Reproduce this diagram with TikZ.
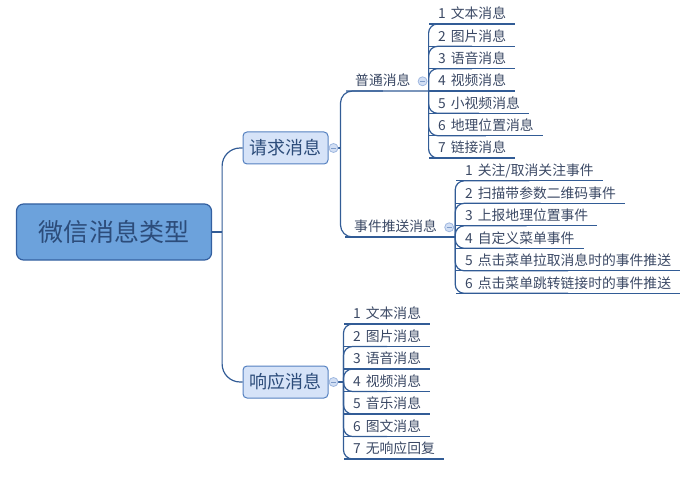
\documentclass[tikz,border=0pt]{standalone}
\usepackage{fontspec}
\newfontfamily\cjk{Noto Sans CJK SC}
\usetikzlibrary{positioning}
\definecolor{linecol}{RGB}{50,92,150}
\definecolor{txtcol}{RGB}{58,72,100}
\definecolor{rootfill}{RGB}{108,162,220}
\definecolor{rootline}{RGB}{52,96,160}
\definecolor{roottext}{RGB}{44,76,122}
\definecolor{boxfill}{RGB}{214,227,248}
\definecolor{boxline}{RGB}{84,128,192}
\definecolor{tgfill}{RGB}{210,223,244}
\definecolor{tgline}{RGB}{160,184,224}
\newcommand\leaffont{\cjk\fontsize{13.8bp}{16bp}\selectfont\spaceskip 5bp plus 1bp minus 1bp\relax}

\begin{document}
\begin{tikzpicture}[x=1bp,y=-1bp,
    branch/.style={draw=linecol, line width=1.2bp, rounded corners=9bp},
    leaf/.style={font=\leaffont, text=txtcol,
        inner xsep=9bp, inner ysep=3bp, text height=11bp, text depth=2bp, anchor=south west},
    topic/.style={draw=boxline, fill=boxfill, line width=1bp, rounded corners=4bp,
        minimum width=85bp, minimum height=32bp, text=roottext,
        font=\cjk\fontsize{18bp}{20bp}\selectfont},
    toggle/.style={circle, draw=tgline, fill=tgfill, line width=0.8bp, minimum size=9bp, inner sep=0pt}]
    \useasboundingbox (0,0) rectangle (700,479);

    % Root
    \node[draw=rootline, fill=rootfill, line width=1.2bp, rounded corners=7bp,
          minimum width=195bp, minimum height=56bp, text=roottext,
          font=\cjk\fontsize{25bp}{28bp}\selectfont] (root) at (114,232) {微信消息类型};

    % Main topics
    \node[topic] (req) at (285.5,148) {请求消息};
    \node[topic] (resp) at (285.5,382) {响应消息};

    % Sub topics of req
    \node[leaf] (plain) at (346,91) {普通消息};
    \node[leaf] (event) at (345,237) {事件推送消息};

    % Leaves
    \foreach \txt [count=\i] in {1 文本消息, 2 图片消息, 3 语音消息, 4 视频消息,
                                 5 小视频消息, 6 地理位置消息, 7 链接消息}
        \node[leaf] (plain-\i) at (429,{24+22.333*(\i-1)}) {\txt};
    \foreach \txt [count=\i] in {1 关注/取消关注事件, 2 扫描带参数二维码事件, 3 上报地理位置事件,
                                 4 自定义菜单事件, 5 点击菜单拉取消息时的事件推送, 6 点击菜单跳转链接时的事件推送}
        \node[leaf] (event-\i) at (456,{180.8+22.5*(\i-1)}) {\txt};
    \foreach \txt [count=\i] in {1 文本消息, 2 图片消息, 3 语音消息, 4 视频消息,
                                 5 音乐消息, 6 图文消息, 7 无响应回复}
        \node[leaf] (resp-\i) at (344,{324+22.5*(\i-1)}) {\txt};

    % Branch points
    \coordinate (root-out) at ([xshift=10bp]root.east);
    \coordinate (req-out) at ([xshift=12bp]req.east);
    \coordinate (resp-out) at ([xshift=15bp]resp.east);
    \coordinate (plain-out) at ([xshift=9bp]plain.south east);
    \coordinate (event-out) at ([xshift=9bp]event.south east);

    % Connectors
    \draw[branch] (root.east) -- (root-out);
    \draw[branch, rounded corners=18bp] (root-out) |- (req.west);
    \draw[branch, rounded corners=18bp] (root-out) |- (resp.west);
    \draw[branch] (req.east) -- (req-out);
    \draw[branch, rounded corners=12bp] (req-out) |- (plain.south);
    \draw[branch, rounded corners=12bp] (req-out) |- (event.south);
    \draw[branch] (resp.east) -- (resp-out);

    % Underlines
    \draw[branch] (plain.south west) -- (plain-out) -- (plain-4.south);
    \draw[branch] (event.south west) -- (event-out);
    \foreach \i in {1,...,7} {
        \draw[branch] (plain-\i.south west) -- (plain-\i.south east);
        \draw[branch] (resp-\i.south west) -- (resp-\i.south east);
    }
    \foreach \i in {1,...,6}
        \draw[branch] (event-\i.south west) -- (event-\i.south east);

    % Leaf connectors
    \foreach \i in {1,2,3,5,6,7}
        \draw[branch] (plain-out) |- (plain-\i.south);
    \foreach \i in {1,...,6}
        \draw[branch] (event-out) |- (event-\i.south);
    \foreach \i in {1,...,7}
        \draw[branch] (resp-out) |- (resp-\i.south);

    % Toggles
    \node[toggle] (req-tg) at ([xshift=5bp]req.east) {};
    \node[toggle] (resp-tg) at ([xshift=5bp]resp.east) {};
    \node[toggle] (plain-tg) at ([xshift=3bp]plain.east) {};
    \node[toggle] (event-tg) at ([xshift=3bp]event.east) {};
    \foreach \t in {req-tg, resp-tg, plain-tg, event-tg}
        \draw[tgline!70!linecol, line width=0.8bp] ([xshift=-2.5bp]\t.center) -- ([xshift=2.5bp]\t.center);
\end{tikzpicture}
\end{document}
